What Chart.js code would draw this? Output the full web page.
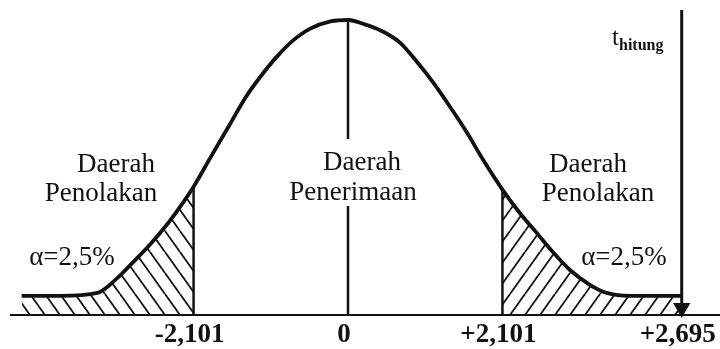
<!DOCTYPE html>
<html>
<head>
<meta charset="utf-8">
<script src="https://cdn.jsdelivr.net/npm/chart.js@4/dist/chart.umd.min.js"></script>
<style>
  html, body { margin: 0; padding: 0; background: #fff; }
  #wrap { width: 720px; height: 349px; }
</style>
</head>
<body>
<div id="wrap"><canvas id="c" width="720" height="349"></canvas></div>
<script>
// ---- data (schematic t-axis) ----
const curveT = [-4.44, -3.92, -3.41, -3.14, -2.93, -2.69, -2.46, -2.29, -2.101, -1.88, -1.61, -1.40, -1.20, -0.97, -0.75, -0.52, -0.24, 0, 0.26, 0.48, 0.71, 0.94, 1.16, 1.39, 1.62, 1.84, 2.101, 2.34, 2.57, 2.79, 3.02, 3.29, 3.52, 3.84, 4.54];
const curveY = [0.026, 0.026, 0.030, 0.050, 0.071, 0.096, 0.123, 0.146, 0.174, 0.212, 0.258, 0.294, 0.322, 0.350, 0.372, 0.388, 0.398, 0.400, 0.393, 0.384, 0.369, 0.343, 0.315, 0.282, 0.247, 0.210, 0.170, 0.138, 0.111, 0.085, 0.061, 0.041, 0.030, 0.026, 0.026];
const criticalValues = [-2.101, 2.101];
const criticalHeights = [0.174, 0.170];
const peakValue = 0.400;
const tHitungValue = 2.695;      // drawn off-scale in the original sketch
const tHitungPlotPos = 4.54;     // schematic position of the t_hitung arrow
const arrowTop = 0.4136;
const tickValues = [-2.101, 0, 2.101, tHitungPlotPos];
const tickLabels = ['-2,101', '0', '+2,101', '+2,695'];
const alphaLabel = '\u03b1=2,5%';
const regionTop = ['Daerah', 'Daerah', 'Daerah'];
const regionBottom = ['Penolakan', 'Penerimaan', 'Penolakan'];

// ---- build ----
const curve = curveT.map((t, i) => ({ x: t, y: curveY[i] }));
const leftTail = curve.filter(p => p.x <= criticalValues[0]);
const rightTail = curve.filter(p => p.x >= criticalValues[1]);

function hatch(dir) {
  const w = 15, h = 21;
  const cv = document.createElement('canvas');
  cv.width = w; cv.height = h;
  const g = cv.getContext('2d');
  g.strokeStyle = '#111';
  g.lineWidth = 1.8;
  for (const dx of [-w, 0, w]) {
    g.beginPath();
    if (dir === 'back') { g.moveTo(dx, 0); g.lineTo(dx + w, h); }
    else { g.moveTo(dx, h); g.lineTo(dx + w, 0); }
    g.stroke();
  }
  return document.getElementById('c').getContext('2d').createPattern(cv, 'repeat');
}

const FONT = '"Liberation Serif", "Times New Roman", serif';

const textPlugin = {
  id: 'texts',
  afterDatasetsDraw(chart) {
    const ctx = chart.ctx;
    ctx.save();
    // gap in the centre line behind the central label
    ctx.fillStyle = '#fff';
    ctx.fillRect(300, 139, 110, 67);
    ctx.fillStyle = '#111';
    ctx.textAlign = 'center';
    ctx.textBaseline = 'alphabetic';
    ctx.font = '27px ' + FONT;
    const topX = [116, 362, 588], botX = [101, 353, 598];
    const topY = [172, 170, 172], botY = [201, 200, 201];
    for (let i = 0; i < 3; i++) {
      ctx.fillText(regionTop[i], topX[i], topY[i]);
      ctx.fillText(regionBottom[i], botX[i], botY[i]);
    }
    ctx.fillText(alphaLabel, 72, 265);
    ctx.fillText(alphaLabel, 624, 265);
    // t_hitung label
    ctx.textAlign = 'left';
    ctx.font = '25px ' + FONT;
    ctx.fillText('t', 612, 45);
    ctx.font = 'bold 16px ' + FONT;
    ctx.fillText('hitung', 619, 50);
    ctx.restore();
  }
};

new Chart(document.getElementById('c'), {
  type: 'scatter',
  data: {
    datasets: [
      { data: leftTail, showLine: true, borderWidth: 0, pointRadius: 0, fill: 'origin',
        backgroundColor: hatch('back'), cubicInterpolationMode: 'monotone', borderColor: 'rgba(0,0,0,0)' },
      { data: rightTail, showLine: true, borderWidth: 0, pointRadius: 0, fill: 'origin',
        backgroundColor: hatch('fwd'), cubicInterpolationMode: 'monotone', borderColor: 'rgba(0,0,0,0)' },
      { data: curve, showLine: true, borderColor: '#111', borderWidth: 3.8, pointRadius: 0,
        fill: false, cubicInterpolationMode: 'monotone' },
      { data: [{ x: criticalValues[0], y: 0 }, { x: criticalValues[0], y: criticalHeights[0] }],
        showLine: true, borderColor: '#111', borderWidth: 2.5, pointRadius: 0 },
      { data: [{ x: criticalValues[1], y: 0 }, { x: criticalValues[1], y: criticalHeights[1] }],
        showLine: true, borderColor: '#111', borderWidth: 2.5, pointRadius: 0 },
      { data: [{ x: 0, y: 0 }, { x: 0, y: peakValue }],
        showLine: true, borderColor: '#111', borderWidth: 2.5, pointRadius: 0 },
      { data: [{ x: tHitungPlotPos, y: arrowTop }, { x: tHitungPlotPos, y: 0.0095 }],
        showLine: true, borderColor: '#111', borderWidth: 3,
        pointRadius: [0, 7], pointStyle: 'triangle', rotation: 180,
        pointBackgroundColor: '#111', pointBorderColor: '#111', clip: false }
    ]
  },
  options: {
    responsive: false,
    animation: false,
    devicePixelRatio: 1,
    layout: { autoPadding: false, padding: { left: 11, right: 0, top: 0, bottom: 0 } },
    plugins: { legend: { display: false }, tooltip: { enabled: false } },
    scales: {
      x: {
        type: 'linear',
        min: -4.585, max: 5.061,
        grid: { display: false, drawTicks: false },
        border: { display: true, color: '#111', width: 2 },
        afterBuildTicks: (scale) => { scale.ticks = tickValues.map(v => ({ value: v })); },
        afterFit: (scale) => { scale.paddingLeft = 0; scale.paddingRight = 0; scale.height = 34; },
        ticks: {
          autoSkip: false, maxRotation: 0, padding: 7, color: '#111', labelOffset: -4,
          font: { family: FONT, size: 27, weight: 'bold', lineHeight: 1.0 },
          callback: (v) => { const i = tickValues.indexOf(v); return i >= 0 ? tickLabels[i] : ''; }
        }
      },
      y: { display: false, min: 0, max: 0.4271 }
    }
  },
  plugins: [textPlugin]
});
</script>
</body>
</html>
